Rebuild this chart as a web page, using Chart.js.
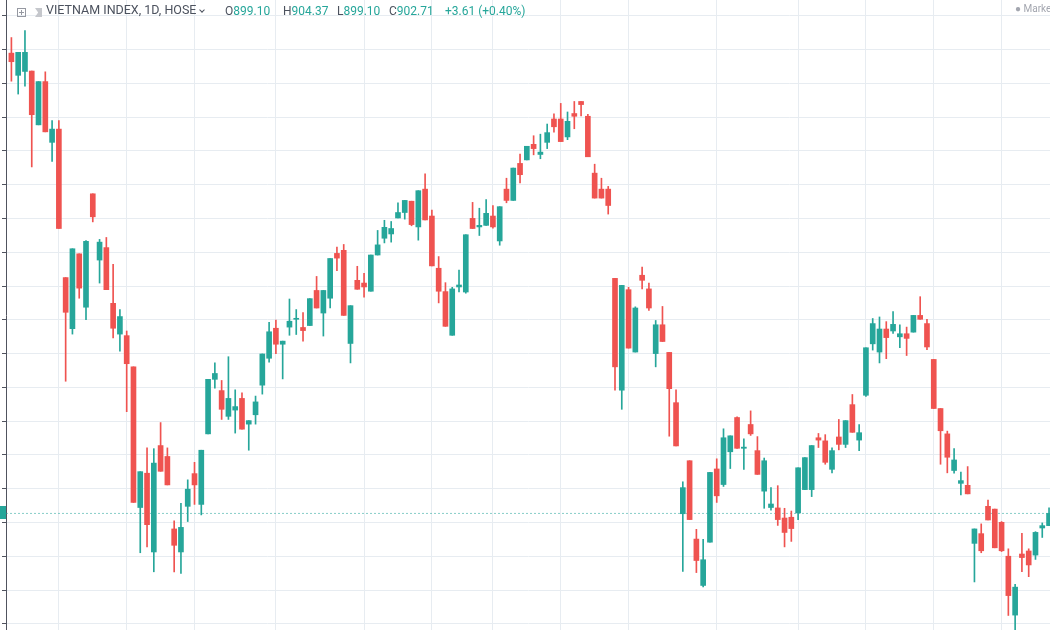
<!DOCTYPE html>
<html>
<head>
<meta charset="utf-8">
<script src="https://cdn.jsdelivr.net/npm/chart.js@4.4.0/dist/chart.umd.min.js"></script>
<style>
html, body { margin: 0; padding: 0; background: #fff; overflow: hidden; }
#wrap { position: relative; width: 1050px; height: 630px; overflow: hidden; }
#chart { position: absolute; left: 0; top: 0; }
#legend { position: absolute; left: 0; top: 0; width: 1050px; height: 22px; font-family: Roboto, "Noto Sans", sans-serif; font-size: 12px; color: #4c525e; }
#legend span { position: absolute; top: 4px; line-height: 14px; white-space: nowrap; }
#legend b { font-weight: normal; color: #26a69a; }
.pbox { position: absolute; left: 17px; top: 8px; width: 7px; height: 7px; border: 1px solid #9598a1; }
.pbox:before { content: ''; position: absolute; left: 3px; top: 1px; width: 1px; height: 5px; background: #9598a1; }
.pbox:after { content: ''; position: absolute; left: 1px; top: 3px; width: 5px; height: 1px; background: #9598a1; }
.flag { position: absolute; left: 35px; top: 8px; width: 7px; height: 9px; background: #c5c7cc; clip-path: polygon(0 0, 100% 0, 100% 100%, 0 100%, 45% 50%); }
.chev { position: absolute; left: 200px; top: 8px; width: 3px; height: 3px; border-right: 1px solid #4c525e; border-bottom: 1px solid #4c525e; transform: rotate(45deg); }
#market { position: absolute; left: 1015px; top: 3px; font-family: Roboto, "Noto Sans", sans-serif; font-size: 10px; color: #a3a6af; white-space: nowrap; }
</style>
</head>
<body>
<div id="wrap">
  <canvas id="chart" width="1050" height="630"></canvas>
  <div id="legend">
    <div class="pbox"></div>
    <div class="flag"></div>
    <span style="left:46px; font-size:12.5px; top:3px;">VIETNAM INDEX, 1D, HOSE</span>
    <div class="chev"></div>
    <span style="left:225px">O<b>899.10</b></span>
    <span style="left:283px">H<b>904.37</b></span>
    <span style="left:337px">L<b>899.10</b></span>
    <span style="left:389px">C<b>902.71</b></span>
    <span style="left:445px"><b>+3.61 (+0.40%)</b></span>
  </div>
  <div id="market">● Market</div>
</div>
<script>
var opens = [
  1038.90, 1032.33, 1033.48, 1033.60, 1017.68, 1030.48, 1012.50, 1016.42, 972.49, 957.38,
  979.52, 963.72, 997.28, 977.68, 981.36, 964.88, 955.77, 955.31, 946.08, 904.46,
  914.61, 891.31, 922.79, 919.56, 898.12, 891.31, 904.81, 914.49, 905.38, 926.25,
  942.39, 939.05, 931.44, 933.29, 936.74, 929.13, 931.90, 940.66, 948.62, 957.50,
  952.77, 957.84, 960.15, 957.73, 958.30, 968.68, 962.00, 966.38, 979.64, 980.56,
  953.00, 971.68, 970.87, 968.45, 979.17, 984.13, 985.40, 990.13, 991.74, 995.09,
  987.48, 998.66, 990.70, 975.25, 968.34, 955.42, 969.72, 968.22, 990.01, 987.48,
  987.94, 990.70, 983.33, 998.66, 995.32, 1006.27, 1007.31, 1011.92, 1008.92, 1012.50,
  1019.41, 1019.41, 1014.11, 1021.03, 1024.60, 1020.22, 1003.39, 998.66, 998.66, 972.26,
  939.17, 968.91, 950.46, 973.18, 969.14, 950.00, 958.53, 950.35, 935.48, 902.62,
  918.30, 895.12, 881.40, 894.20, 915.87, 911.26, 920.95, 931.09, 921.98, 929.02,
  921.29, 909.30, 904.46, 904.34, 901.35, 901.58, 902.85, 909.76, 909.76, 925.10,
  924.18, 915.76, 925.33, 923.14, 934.90, 924.41, 937.67, 952.89, 950.46, 957.27,
  956.69, 954.96, 955.88, 956.35, 961.30, 958.88, 948.27, 933.75, 926.25, 915.41,
  911.61, 911.03, 893.85, 896.73, 904.81, 903.99, 900.08, 890.05, 872.63, 890.70,
  891.60, 890.39, 898.40, 899.10
];
var highs = [
  1043.51, 1039.13, 1045.59, 1033.60, 1030.48, 1033.37, 1018.95, 1018.95, 972.49, 981.02,
  979.52, 983.44, 997.28, 983.79, 984.36, 976.41, 963.03, 956.69, 946.08, 915.07,
  922.10, 921.87, 929.59, 922.10, 900.54, 905.73, 912.65, 917.83, 921.41, 942.39,
  947.24, 942.05, 949.08, 939.28, 938.36, 930.17, 937.43, 949.89, 959.23, 959.92,
  953.69, 966.15, 963.03, 962.11, 966.26, 972.83, 968.68, 978.14, 981.48, 982.29,
  964.18, 975.83, 973.76, 979.17, 986.44, 989.44, 989.09, 994.62, 995.32, 995.09,
  998.20, 1003.16, 992.43, 978.71, 970.99, 969.60, 974.68, 985.17, 994.74, 993.01,
  995.55, 993.82, 993.47, 1001.89, 1004.89, 1009.04, 1011.34, 1014.46, 1014.92, 1017.92,
  1020.91, 1024.03, 1021.49, 1024.60, 1024.60, 1020.80, 1006.04, 1001.89, 999.47, 972.26,
  970.18, 969.60, 963.84, 975.60, 970.87, 959.80, 963.95, 950.35, 939.28, 912.07,
  918.30, 898.00, 895.01, 914.84, 918.87, 927.75, 925.67, 931.32, 924.75, 933.05,
  925.44, 919.10, 910.34, 910.92, 904.23, 903.42, 916.22, 919.22, 922.79, 926.37,
  926.02, 922.10, 930.52, 930.17, 937.90, 929.02, 951.73, 960.38, 960.84, 959.46,
  962.46, 958.53, 957.84, 961.30, 966.84, 960.15, 948.27, 933.75, 927.06, 921.87,
  914.95, 916.57, 898.12, 899.62, 906.65, 903.99, 900.30, 892.24, 881.75, 896.85,
  892.24, 897.31, 899.90, 904.37
];
var lows = [
  1030.60, 1026.79, 1029.10, 1005.23, 1017.68, 1015.61, 1006.85, 987.01, 941.82, 955.77,
  966.38, 960.03, 988.97, 970.87, 968.91, 954.61, 950.70, 932.82, 905.96, 891.08,
  892.81, 885.44, 915.18, 911.15, 885.44, 884.97, 900.31, 905.38, 902.27, 926.25,
  939.74, 930.52, 930.52, 926.48, 927.64, 921.41, 929.13, 938.01, 947.47, 950.00,
  942.51, 955.42, 955.65, 953.69, 958.30, 963.49, 955.19, 963.49, 974.56, 961.30,
  947.24, 969.03, 966.72, 968.45, 979.17, 982.75, 982.98, 990.13, 989.78, 987.82,
  983.56, 989.55, 975.95, 965.00, 958.07, 955.42, 968.22, 967.87, 987.01, 984.94,
  987.94, 987.13, 982.06, 994.62, 995.32, 1000.50, 1007.31, 1008.81, 1007.65, 1010.65,
  1015.49, 1012.73, 1013.30, 1016.53, 1020.34, 1008.23, 996.01, 996.01, 991.28, 939.17,
  933.52, 951.62, 950.46, 969.14, 962.80, 946.08, 953.58, 925.56, 922.68, 885.55,
  900.89, 885.21, 880.94, 894.20, 905.96, 910.69, 915.99, 921.98, 915.76, 925.79,
  914.26, 904.23, 903.65, 899.16, 892.81, 894.43, 900.89, 909.76, 907.69, 922.21,
  917.26, 914.72, 921.52, 922.21, 926.71, 921.29, 937.32, 951.04, 947.24, 948.50,
  956.00, 951.73, 949.43, 956.35, 960.15, 951.15, 933.75, 917.26, 914.72, 914.61,
  908.15, 908.50, 882.44, 891.08, 900.77, 892.54, 891.43, 872.52, 866.50, 885.50,
  884.00, 889.10, 895.60, 899.10
];
var closes = [
  1036.36, 1039.13, 1039.13, 1020.68, 1030.48, 1015.61, 1016.42, 987.01, 962.22, 981.02,
  969.37, 983.21, 990.47, 982.98, 968.91, 957.50, 960.96, 947.01, 905.96, 915.07,
  899.39, 917.60, 915.18, 911.15, 893.28, 898.58, 909.88, 911.15, 921.41, 942.39,
  944.12, 933.52, 936.74, 934.32, 927.64, 930.17, 935.71, 949.89, 956.46, 952.77,
  953.69, 959.57, 960.38, 956.81, 966.26, 963.49, 968.68, 978.14, 978.25, 961.30,
  964.18, 969.03, 969.72, 979.17, 982.17, 987.36, 987.01, 991.74, 995.32, 988.17,
  998.20, 989.55, 975.95, 968.45, 958.07, 969.14, 970.30, 985.17, 987.01, 987.94,
  991.51, 987.48, 993.47, 995.32, 1004.89, 1002.93, 1011.34, 1010.65, 1009.61, 1015.38,
  1017.11, 1012.73, 1018.72, 1020.22, 1023.68, 1008.23, 996.01, 996.01, 993.82, 946.08,
  970.18, 951.62, 963.49, 971.68, 963.49, 958.53, 953.58, 939.63, 922.68, 910.34,
  900.89, 888.78, 889.01, 914.84, 907.92, 925.10, 925.67, 921.98, 922.33, 926.25,
  914.26, 918.30, 905.50, 900.89, 897.08, 898.23, 916.22, 919.22, 922.79, 924.41,
  917.83, 921.29, 923.14, 930.17, 926.71, 926.60, 951.73, 958.88, 957.27, 954.73,
  958.65, 955.88, 954.50, 961.30, 960.15, 951.96, 933.75, 927.17, 919.33, 918.53,
  912.42, 908.50, 898.12, 891.66, 900.77, 892.54, 891.66, 878.40, 880.90, 889.65,
  887.47, 897.10, 899.10, 902.71
];
// bars where the vertical time grid falls (two-week marks)
var gridDays = [7, 17, 27, 39, 52, 62, 71, 81, 91, 104, 116, 126, 136, 146];
var gridPrices = [870, 880, 890, 900, 910, 920, 930, 940, 950, 960, 970, 980, 990, 1000, 1010, 1020, 1030, 1040, 1050];

var upColor = '#26a69a';
var downColor = '#ef5350';
var gridColor = '#e7ecf1';
var axisColor = '#50535e';
var priceLineColor = 'rgba(38, 166, 154, 0.55)';

var xMin = -0.796, xMax = 153.141;
var yMin = 868.22, yMax = 1054.62;

var lastClose = closes[closes.length - 1];
var days = opens.map(function(o, i) { return i; });
var candleColors = days.map(function(i) { return closes[i] >= opens[i] ? upColor : downColor; });

var lastLabel = {
  id: 'lastLabel',
  afterDraw: function(chart) {
    var y = Math.round(chart.scales.y.getPixelForValue(lastClose));
    var ctx = chart.ctx;
    ctx.save();
    ctx.fillStyle = upColor;
    ctx.fillRect(0, y - 7, 6, 13);
    ctx.restore();
  }
};

new Chart(document.getElementById('chart'), {
  type: 'bar',
  data: {
    datasets: [{
      label: 'body',
      data: days.map(function(i) { return {x: i, y: [opens[i], closes[i]]}; }),
      backgroundColor: candleColors,
      borderWidth: 0,
      barThickness: 5,
      minBarLength: 1,
      grouped: false,
      order: 0
    }, {
      label: 'wick',
      data: days.map(function(i) { return {x: i, y: [lows[i], highs[i]]}; }),
      backgroundColor: candleColors,
      borderWidth: 0,
      barThickness: 1,
      grouped: false,
      order: 1
    }, {
      type: 'line',
      label: 'last',
      data: [{x: xMin, y: lastClose}, {x: xMax, y: lastClose}],
      borderColor: priceLineColor,
      borderWidth: 1,
      borderDash: [2, 2],
      pointRadius: 0,
      order: 2
    }]
  },
  options: {
    responsive: false,
    animation: false,
    layout: { padding: { left: 2, right: 0, top: 0, bottom: 0 } },
    plugins: { legend: { display: false }, tooltip: { enabled: false } },
    scales: {
      x: {
        type: 'linear',
        min: xMin,
        max: xMax,
        offset: false,
        grid: { offset: false, color: gridColor, drawTicks: false },
        border: { display: false },
        ticks: { display: false },
        afterBuildTicks: function(axis) {
          axis.ticks = gridDays.map(function(v) { return {value: v}; });
        }
      },
      y: {
        type: 'linear',
        position: 'left',
        min: yMin,
        max: yMax,
        grid: { color: gridColor, tickColor: axisColor, tickLength: 4 },
        border: { color: axisColor, width: 1 },
        ticks: { display: false },
        afterBuildTicks: function(axis) {
          axis.ticks = gridPrices.map(function(v) { return {value: v}; });
        }
      }
    }
  },
  plugins: [lastLabel]
});
</script>
</body>
</html>
